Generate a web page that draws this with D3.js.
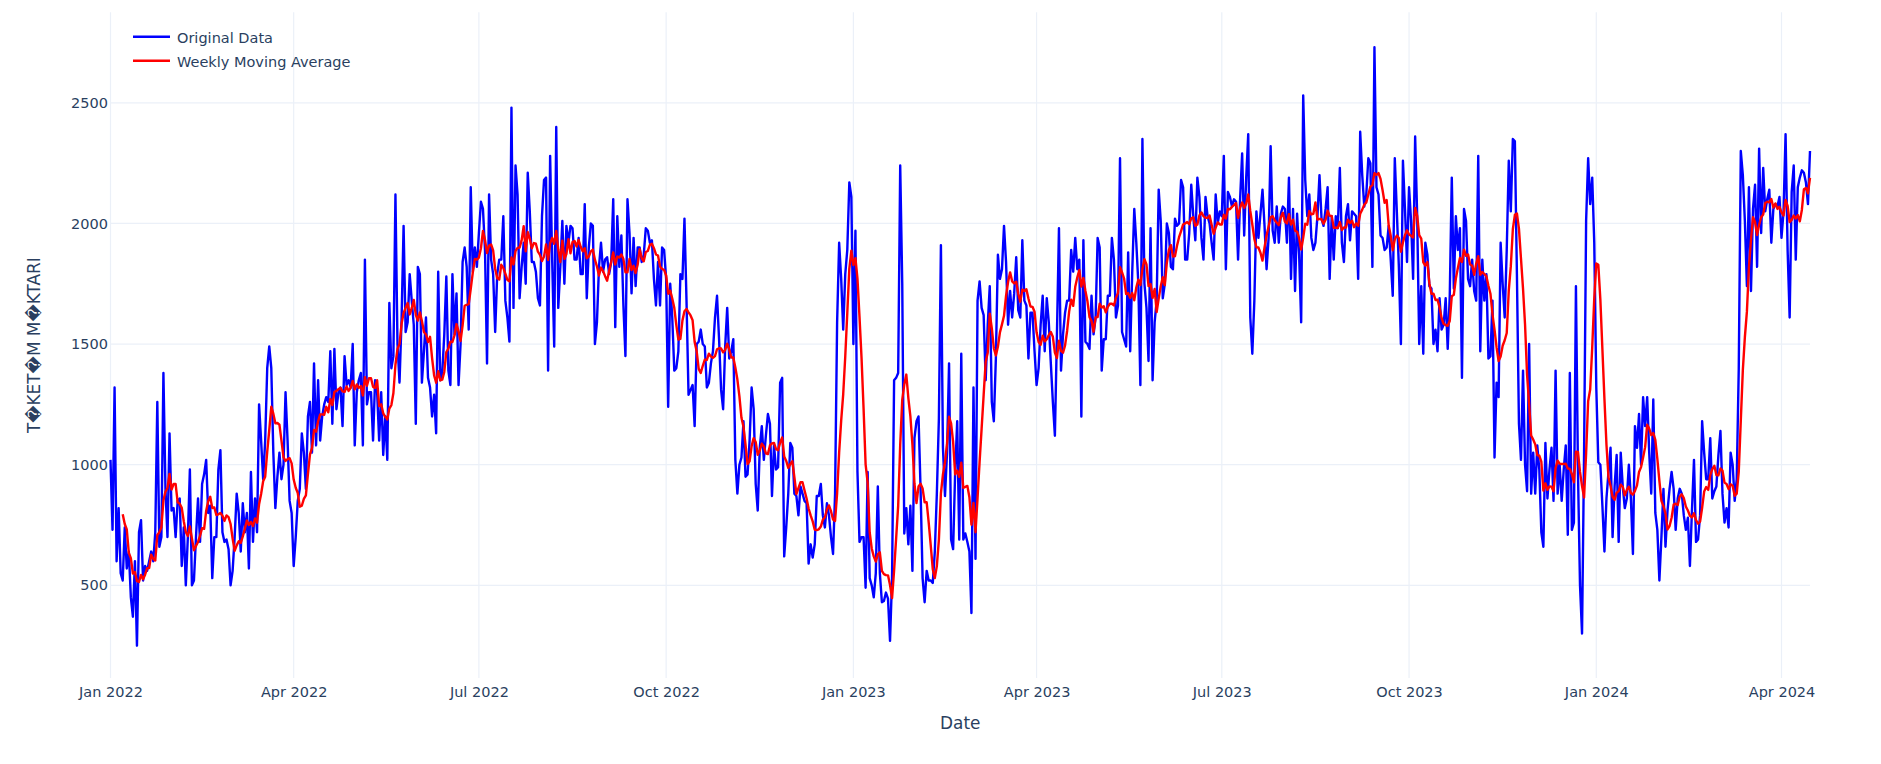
<!DOCTYPE html>
<html lang="en">
<head>
    <meta charset="UTF-8">
    <title>Tuketim Miktari</title>
    <script src="https://d3js.org/d3.v7.min.js"></script>
    <style>
        body { margin: 0; background: #fff; }
        text { font-family: "DejaVu Sans", Verdana, sans-serif; fill: #2a3f5f; }
    </style>
</head>
<body>
<div id="chart"></div>

<script>
    // daily values, one per day from 1 Jan 2022
    var startDate = "2022-01-01";

    var daily2022 = [
        1020, 730, 1320, 600, 820, 550, 520, 740, 570, 640,
        450, 370, 600, 250, 720, 770, 520, 580, 560, 600,
        640, 600, 720, 1260, 660, 700, 1380, 900, 700,
        1130, 810, 820, 700, 850, 860, 580, 740, 500, 700,
        980, 500, 520, 700, 860, 680, 920, 960, 1020, 800,
        830, 530, 700, 700, 980, 1060, 720, 680, 690,
        650, 500, 560, 700, 880, 800, 640, 840, 720, 800,
        570, 970, 680, 860, 720, 1250, 1100, 940, 1100, 1400,
        1490, 1400, 1050, 820, 950, 1050, 940, 1000, 1300, 1100,
        850, 800, 580, 700, 850, 900, 1130, 1050, 900, 1200,
        1260, 1050, 1420, 1080, 1350, 1100, 1200, 1250, 1280, 1260,
        1470, 1170, 1480, 1230, 1300, 1320, 1160, 1450, 1330,
        1350, 1320, 1500, 1080, 1300, 1350, 1380, 1080, 1850, 1250,
        1300, 1300, 1100, 1350, 1300, 1100, 1300, 1040, 1200, 1020,
        1670,
        1400, 1450, 2120, 1500, 1340, 1600, 1990, 1550, 1590, 1790,
        1680, 1580, 1170, 1820, 1790, 1340, 1470, 1610, 1360, 1320,
        1200, 1290, 1130, 1800, 1350, 1380, 1540, 1780, 1390, 1330,
        1790, 1540, 1710, 1330, 1500, 1840, 1900, 1820, 1560, 2150,
        1800, 1900, 1820, 1960, 2090, 2060, 1890, 1420, 2120, 1850,
        1790, 1550, 1790, 1850, 1850, 2030, 1680, 1610, 1510, 2480,
        1650, 2240, 2120, 1690, 1820, 1920, 1750, 2210, 2050, 1840,
        1840, 1800, 1690, 1660, 2030, 2180, 2190, 1390, 2280, 1850,
        1490, 2400, 1650, 1820, 2010, 1750, 1990, 1920, 1990, 1980,
        1850, 1850, 1940, 1790, 1790, 2080, 1690, 1900, 2000, 1990,
        1500, 1590, 1820, 1920, 1800, 1850, 1860, 1790, 1840, 2100,
        1570, 2030, 1820, 1950, 1660, 1450, 2100, 1960, 1710, 1940,
        1740, 1900, 1900, 1840, 1870, 1980, 1970, 1920, 1930, 1770,
        1660, 1840, 1660, 1900, 1890, 1770, 1240, 1750, 1610, 1390,
        1400, 1470,
        1790, 1770, 2020, 1680, 1290, 1310, 1330, 1160, 1500, 1510,
        1560, 1500, 1490, 1320, 1340, 1420, 1470, 1610, 1700,
        1520, 1310, 1230, 1490, 1650, 1440, 1470, 1520, 1020, 880,
        1000, 1030, 1180, 950, 960, 1100, 1320, 1230, 920, 810,
        1070, 1160, 1020, 1120, 1210, 1170, 870, 1080, 980, 990,
        1340, 1360, 620, 740, 880, 1090, 1070, 880, 870, 790,
        910, 880, 850, 840, 590, 670, 615, 670, 870, 870,
        920, 790, 740, 840, 790, 700, 630, 880, 1590, 1920,
        1770, 1560, 1790, 1890, 2170, 2110
    ];

    var daily2023 = [
        1500, 1970, 970, 680,
        700, 700, 490, 970, 530, 500, 450, 550, 910, 550,
        430, 435, 470, 445, 270, 530, 1350, 1360, 1380, 2240,
        1750, 715, 820, 670, 830, 560, 1110, 1180, 1200, 900,
        530, 430, 560, 520, 520, 510, 640, 880, 1190,
        1910, 1070, 870, 1050, 1420, 690, 650, 970, 1180, 690,
        1460, 690,
        715, 680, 640, 385, 1320, 610, 1680, 1760, 1650,
        1620, 1350, 1580, 1740, 1260, 1180, 1440, 1870, 1770, 1810,
        1990, 1840, 1580, 1720, 1610, 1710, 1860, 1640, 1610, 1930,
        1680, 1660, 1440, 1630, 1630, 1470, 1330, 1400, 1580, 1700,
        1470, 1690, 1590, 1420, 1260, 1120, 1540, 1980, 1390, 1540,
        1630, 1680, 1680, 1890, 1800, 1940, 1810, 1850, 1200,
        1930, 1510, 1500, 1480, 1700, 1540, 1610, 1940, 1900,
        1390, 1520, 1520, 1700, 1700, 1940, 1850, 1610, 1660, 2270,
        1550, 1520, 1490, 1880, 1470, 1800, 2060, 1920, 1750, 1330,
        2350, 1750, 1650, 1430, 1980, 1350, 1590, 1680, 2140, 2010,
        1690, 1750, 2000, 1960, 1820, 1810, 2020, 1990, 2000, 2180,
        2150, 1850, 1850, 1960, 2160, 2030, 1930, 2190, 2110, 1940,
        1850, 2110, 2030, 2000, 1920, 1850, 2120, 2000, 2050, 2030,
        2280, 1810, 2130, 2110, 2070, 2100, 2090, 1850, 2100, 2290,
        1950, 2190, 2370,
        1610, 1460, 1680, 2050, 1940, 2040, 2140, 1990, 1810, 1940,
        2320, 1970, 1920, 2070, 1920, 2040, 2070, 2060, 1920,
        2190, 1770, 2060, 1720, 2040, 1870, 1590, 2530, 2180, 2030,
        2120, 1940, 1890, 1920, 2030, 2200, 2020, 1990, 2060,
        2150, 1770, 2030, 1850, 2030, 1980, 2230, 1920, 1840,
        2030, 2080, 1930, 2050, 2040, 2030, 1770, 2380, 2200, 2070,
        2120, 2270, 2250, 1820, 2730, 2150, 2120, 1950, 1940, 1890,
        1900, 1990, 1850, 1700, 2270, 2050, 1820, 1500, 2260, 2060,
        1840, 2150, 2010, 1770, 2360, 2030, 1500, 1740, 1460, 1920,
        1870, 1740, 1730, 1500, 1560, 1470, 1690, 1560, 1580,
        1690, 1480, 1700, 2190, 1730, 2030, 1890, 1980, 1360, 2060,
        2010, 1770, 1740, 1850, 1720, 1680, 2280, 1470, 1850, 1680,
        1790, 1440, 1450, 1680, 1030, 1340, 1280, 1920, 1750, 1610,
        1890, 2260, 2050, 2350, 2340, 1790, 1170, 1020, 1390, 1000,
        890, 1500, 880, 1050,
        880, 1080, 980, 720, 660, 1090, 860, 980, 1070, 850,
        1390, 880, 1000, 850, 980, 1080, 710, 1380, 730, 760,
        1740, 970, 500, 300, 1050, 2010, 2270, 2080, 2190,
        1920
    ];

    var daily2024 = [
        1320, 1010, 1000, 830, 640, 860, 970, 1070, 700,
        910, 1040, 680, 1050, 910, 820, 860, 1000, 860, 630,
        1160, 1070, 1210, 1000, 1280, 1160, 1280, 1050, 880, 1270,
        800, 730, 520, 700, 900, 660, 810, 900,
        970, 900, 730, 860, 900, 880, 790, 730, 780, 580,
        810, 1020, 680, 690, 790, 1180, 1050, 940, 940, 1110,
        860, 890, 910, 1040, 1140, 880, 760, 820, 740, 1050,
        1000, 850, 940, 1400, 2300, 2200, 2010, 1740, 2150, 1720,
        2060, 2160, 1820, 2310, 1960, 2230, 2050, 2100, 2140, 1920,
        2060, 2080, 2070, 2110, 1940, 2050, 2370, 1890, 1610, 2130,
        2240, 1850, 2150, 2190, 2220, 2210, 2170, 2080, 2300
    ];

    var seriesNames = ["Original Data", "Weekly Moving Average"];
    var seriesColors = ["blue", "red"];
    var yTicks = [500, 1000, 1500, 2000, 2500];
    var yTitle = "T\uFFFDKET\uFFFDM M\uFFFDKTARI";
    var xTitle = "Date";

    var values = daily2022.concat(daily2023, daily2024);
    var day0 = d3.timeParse("%Y-%m-%d")(startDate);
    var data = values.map(function (v, i) {
        return {date: d3.timeDay.offset(day0, i), value: v};
    });

    // 7 day trailing mean, like pandas rolling(7)
    var weekly = [];
    for (var i = 6; i < data.length; i++) {
        weekly.push({date: data[i].date, value: d3.mean(values.slice(i - 6, i + 1))});
    }

    var width = 1881, height = 764;
    var margin = {top: 12.3, right: 71, bottom: 86, left: 110.5};

    var svg = d3.select("#chart").append("svg")
        .attr("width", width)
        .attr("height", height);

    var xScale = d3.scaleTime()
        .domain(d3.extent(data, function (d) { return d.date; }))
        .range([margin.left, width - margin.right]);

    var yScale = d3.scaleLinear()
        .domain([116, 2875])
        .range([height - margin.bottom, margin.top]);

    var xTicks = d3.timeMonth.every(3).range(day0, xScale.domain()[1]);

    // grid
    svg.append("g").selectAll("line.vgrid")
        .data(xTicks)
        .enter().append("line")
        .attr("x1", xScale).attr("x2", xScale)
        .attr("y1", margin.top).attr("y2", height - margin.bottom)
        .attr("stroke", "#EBF0F8").attr("stroke-width", 1.2);

    svg.append("g").selectAll("line.hgrid")
        .data(yTicks)
        .enter().append("line")
        .attr("x1", margin.left).attr("x2", width - margin.right)
        .attr("y1", yScale).attr("y2", yScale)
        .attr("stroke", "#EBF0F8").attr("stroke-width", 1.2);

    // axes (labels only, no domain lines)
    var xAxis = d3.axisBottom(xScale)
        .tickValues(xTicks)
        .tickSize(0)
        .tickPadding(9)
        .tickFormat(d3.timeFormat("%b %Y"));

    var gx = svg.append("g")
        .attr("transform", "translate(0," + (height - margin.bottom) + ")")
        .call(xAxis);
    gx.select(".domain").remove();
    gx.selectAll("text")
        .style("font-family", "'DejaVu Sans', Verdana, sans-serif")
        .style("font-size", "14.5px").attr("fill", "#2a3f5f");

    var yAxis = d3.axisLeft(yScale)
        .tickValues(yTicks)
        .tickSize(0)
        .tickPadding(2.5)
        .tickFormat(d3.format("d"));

    var gy = svg.append("g")
        .attr("transform", "translate(" + margin.left + ",0)")
        .call(yAxis);
    gy.select(".domain").remove();
    gy.selectAll("text")
        .style("font-family", "'DejaVu Sans', Verdana, sans-serif")
        .style("font-size", "14.5px").attr("fill", "#2a3f5f");

    // titles
    svg.append("text")
        .attr("x", (margin.left + width - margin.right) / 2)
        .attr("y", 729)
        .attr("text-anchor", "middle")
        .style("font-size", "16.9px")
        .text(xTitle);

    svg.append("text")
        .attr("transform", "translate(40," + ((margin.top + height - margin.bottom) / 2) + ") rotate(-90)")
        .attr("text-anchor", "middle")
        .style("font-size", "16.9px")
        .text(yTitle);

    // lines
    var line = d3.line()
        .x(function (d) { return xScale(d.date); })
        .y(function (d) { return yScale(d.value); });

    [data, weekly].forEach(function (s, k) {
        svg.append("path")
            .datum(s)
            .attr("d", line)
            .attr("fill", "none")
            .attr("stroke", seriesColors[k])
            .attr("stroke-width", 2.4)
            .attr("stroke-linejoin", "round");
    });

    // legend
    var legend = svg.append("g").selectAll("g")
        .data(seriesNames)
        .enter().append("g")
        .attr("transform", function (d, i) { return "translate(133," + (36.7 + i * 24) + ")"; });

    legend.append("line")
        .attr("x1", 0).attr("x2", 37)
        .attr("stroke", function (d, i) { return seriesColors[i]; })
        .attr("stroke-width", 2.4);

    legend.append("text")
        .attr("x", 44)
        .attr("dy", "0.42em")
        .style("font-size", "14.5px")
        .text(function (d) { return d; });
</script>
</body>
</html>
